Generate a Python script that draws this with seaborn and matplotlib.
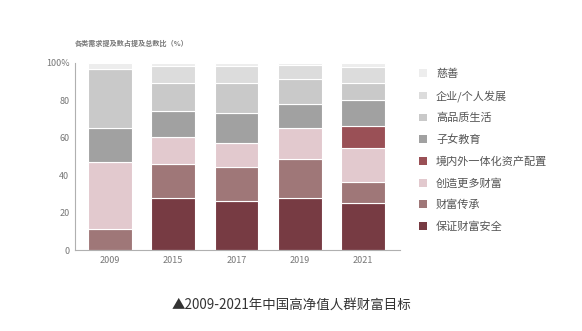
import matplotlib
matplotlib.use("Agg")
import matplotlib.pyplot as plt
from matplotlib.patches import Patch
import numpy as np
import pandas as pd
import seaborn as sns

sns.set_theme(style="white")
plt.rcParams['font.family'] = ['Noto Sans CJK SC', 'DejaVu Sans']

years = ["2009", "2015", "2017", "2019", "2021"]

# Series listed bottom-to-top in the stack
series_names = ["保证财富安全", "财富传承", "创造更多财富", "境内外一体化资产配置",
                "子女教育", "高品质生活", "企业/个人发展", "慈善"]
safety = [0.0, 28.0, 26.3, 27.7, 25.4]
inherit = [11.1, 18.1, 18.2, 20.9, 10.9]
create = [36.2, 14.1, 12.8, 16.9, 18.4]
global_alloc = [0.0, 0.0, 0.0, 0.0, 11.6]
education = [18.2, 14.3, 16.1, 12.4, 13.9]
quality_life = [31.1, 14.6, 15.7, 13.7, 9.1]
development = [0.0, 9.3, 9.3, 7.2, 8.4]
charity = [3.4, 1.6, 1.6, 1.2, 2.3]

series_values = [safety, inherit, create, global_alloc, education,
                 quality_life, development, charity]
colors = ["#773b43", "#9f7778", "#e2c9ce", "#9a5056",
          "#a1a1a1", "#c9c9c9", "#dcdcdc", "#ededed"]

fig = plt.figure(figsize=(5.82, 3.31), dpi=100)
ax = fig.add_axes([75 / 582, 81 / 331, 325 / 582, 187 / 331])

bottom = np.zeros(len(years))
for name, vals, col in zip(series_names, series_values, colors):
    df = pd.DataFrame({"year": years, "value": vals})
    sns.barplot(data=df, x="year", y="value", color=col, saturation=1,
                width=0.69, bottom=bottom, ax=ax, edgecolor="white",
                linewidth=0.8, errorbar=None)
    bottom = bottom + np.array(vals)

ax.set_xlim(-0.55, 4.58)
ax.set_ylim(0, 100)
ax.set_yticks([0, 20, 40, 60, 80, 100])
ax.set_yticklabels(["0", "20", "40", "60", "80", "100%"])
ax.set_xlabel("")
ax.set_ylabel("")
for side in ["top", "right"]:
    ax.spines[side].set_visible(False)
for side in ["left", "bottom"]:
    ax.spines[side].set_color("#b0b0b0")
    ax.spines[side].set_linewidth(0.8)
ax.tick_params(axis="both", length=0, labelsize=6.5, labelcolor="#777777", pad=4)

fig.text(75 / 582, 1 - 43 / 331, "各类需求提及数占提及总数比（%）",
         fontsize=5.1, color="#777777", fontweight="bold", va="center", ha="left")

handles = [Patch(facecolor=c, edgecolor="none") for c in colors[::-1]]
fig.legend(handles, series_names[::-1], loc="upper left",
           bbox_to_anchor=(415 / 582, 1 - 64 / 331), frameon=False,
           fontsize=8, labelcolor="#555555", handlelength=0.7,
           handleheight=0.7, handletextpad=0.8, labelspacing=1.0,
           borderaxespad=0)

fig.text(0.5, 1 - 305 / 331, "▲2009-2021年中国高净值人群财富目标",
         fontsize=9.7, color="#333333", ha="center", va="center")

fig.savefig("out.png", dpi=100)
